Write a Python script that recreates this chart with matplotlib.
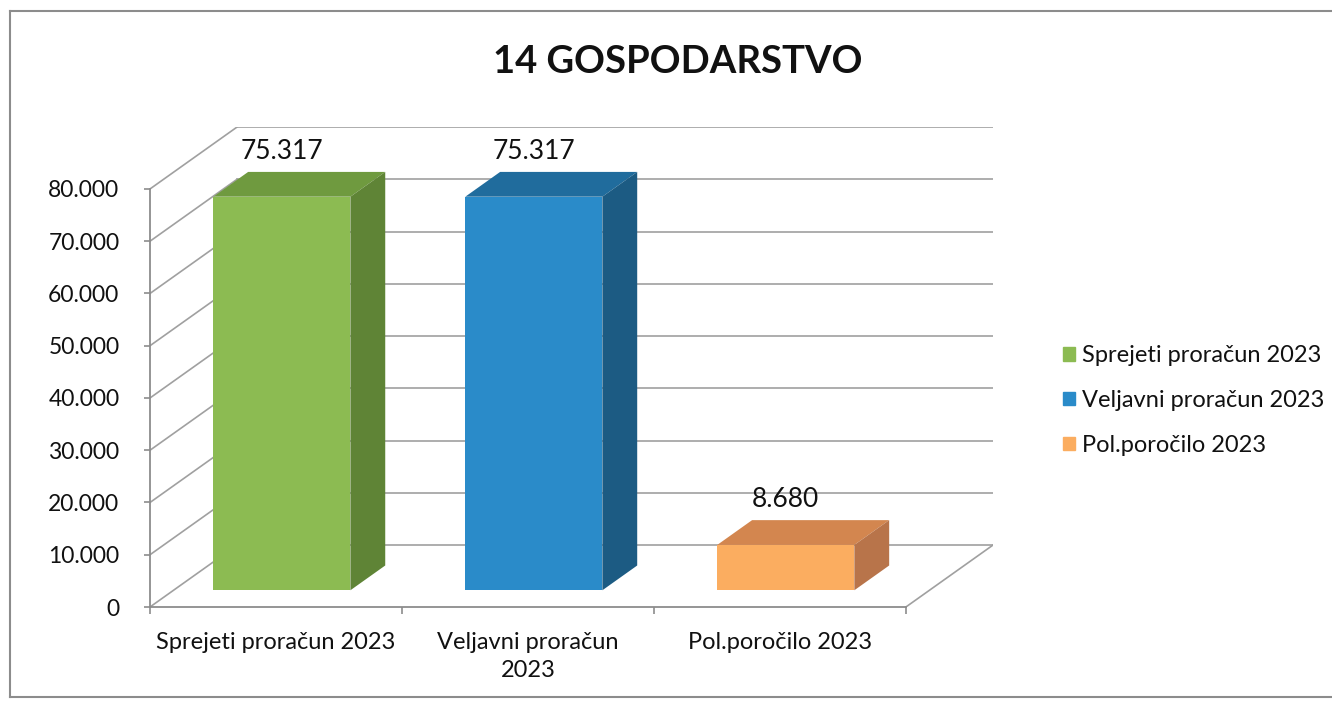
import numpy as np
import matplotlib
matplotlib.use("Agg")
import matplotlib.pyplot as plt
from matplotlib.patches import Polygon
from matplotlib.lines import Line2D
from matplotlib.ticker import FuncFormatter

plt.rcParams['font.family'] = ['Lato', 'DejaVu Sans']

# data
categories = ['Sprejeti proračun 2023', 'Veljavni proračun\n2023', 'Pol.poročilo 2023']
series_names = ['Sprejeti proračun 2023', 'Veljavni proračun 2023', 'Pol.poročilo 2023']
values = [75317, 75317, 8680]
y_ticks = list(range(0, 80001, 10000))
title = '14 GOSPODARSTVO'

# face colours: front, top, side
front_cols = ['#8cbb52', '#2a8bc9', '#fbad60']
top_cols = ['#6f9a3f', '#206c9d', '#d3864f']
side_cols = ['#5f8436', '#1c5b83', '#b8744a']

# oblique projection of the depth axis (in data units)
DX = 87 / 251.7
DY = 62 / 52.3 * 10000
d0 = 0.27    # where bars start in depth
dd = 0.40    # bar depth
grid_col = '#a0a0a0'
txt_col = '#111111'


def fmt_thousands(v, pos=None):
    return '{:,.0f}'.format(v).replace(',', '.')


fig = plt.figure(figsize=(13.32, 7.01), dpi=100)
W, H = 1332, 701
ax = fig.add_axes([150 / W, (H - 607) / H, (993 - 150) / W, (607 - 127) / H])
ax.set_xlim(0, 3 + DX)
ax.set_ylim(0, 80000 + DY)
ax.patch.set_alpha(0)

# walls and floor
for t in y_ticks:
    ax.plot([DX, 3 + DX], [t + DY, t + DY], color=grid_col, lw=1.2, zorder=1)
    ax.plot([0, DX], [t, t + DY], color=grid_col, lw=1.2, zorder=1)
ax.plot([3, 3 + DX], [0, DY], color=grid_col, lw=1.2, zorder=1)

# bars: front faces through ax.bar, top and side as polygons
xc = np.arange(len(values)) + 0.43 + d0 * DX
w = 0.544
bars = ax.bar(xc, values, width=w, bottom=d0 * DY, color=front_cols, zorder=3)
for i, v in enumerate(values):
    xl, xr = xc[i] - w / 2, xc[i] + w / 2
    yb, yt = d0 * DY, d0 * DY + v
    ox, oy = dd * DX, dd * DY
    ax.add_patch(Polygon([(xl, yt), (xr, yt), (xr + ox, yt + oy), (xl + ox, yt + oy)],
                         closed=True, facecolor=top_cols[i], edgecolor='none', zorder=3))
    ax.add_patch(Polygon([(xr, yb), (xr + ox, yb + oy), (xr + ox, yt + oy), (xr, yt)],
                         closed=True, facecolor=side_cols[i], edgecolor='none', zorder=3))
    ax.annotate(fmt_thousands(v), (xc[i], yt + oy), xytext=(0, 6),
                textcoords='offset points', ha='center', va='bottom',
                fontsize=19, color=txt_col)

# axes
for s in ['top', 'right']:
    ax.spines[s].set_visible(False)
ax.spines['left'].set_bounds(0, 80000)
ax.spines['bottom'].set_bounds(0, 3)
for s in ['left', 'bottom']:
    ax.spines[s].set_color('#8c8c8c')
    ax.spines[s].set_linewidth(1.3)

ax.set_yticks(y_ticks)
ax.yaxis.set_major_formatter(FuncFormatter(fmt_thousands))
ax.tick_params(axis='y', direction='out', length=4, width=1.2, color='#8c8c8c',
               pad=18, labelsize=16.5, labelcolor=txt_col)

ax.set_xticks([0, 1, 2, 3])
ax.set_xticklabels([])
ax.set_xticks([0.5, 1.5, 2.5], minor=True)
ax.set_xticklabels(categories, minor=True, fontsize=17, color=txt_col,
                   linespacing=1.4)
ax.tick_params(axis='x', which='major', direction='out', length=5, width=1.2,
               color='#8c8c8c')
ax.tick_params(axis='x', which='minor', length=0, pad=18)

# legend
handles = [plt.Rectangle((0, 0), 1, 1, color=c) for c in front_cols]
fig.legend(handles, series_names, loc='upper left',
           bbox_to_anchor=(1054 / W, 1 - 336 / H), frameon=False,
           fontsize=17, handlelength=0.5, handleheight=0.5,
           handletextpad=0.3, labelspacing=1.0, borderaxespad=0,
           labelcolor=txt_col)

fig.text(678 / W, 1 - 62 / H, title, ha='center', va='center',
         fontsize=27.5, fontweight='bold', color=txt_col)

# frame of the chart area
fc = '#8c8c8c'
fig.add_artist(Line2D([10 / W, 10 / W], [1 - 11 / H, 1 - 697 / H], color=fc, lw=1.5))
fig.add_artist(Line2D([10 / W, 1.0], [1 - 11 / H, 1 - 11 / H], color=fc, lw=1.5))
fig.add_artist(Line2D([10 / W, 1.0], [1 - 697 / H, 1 - 697 / H], color=fc, lw=1.5))

fig.savefig('out.png', dpi=100)
